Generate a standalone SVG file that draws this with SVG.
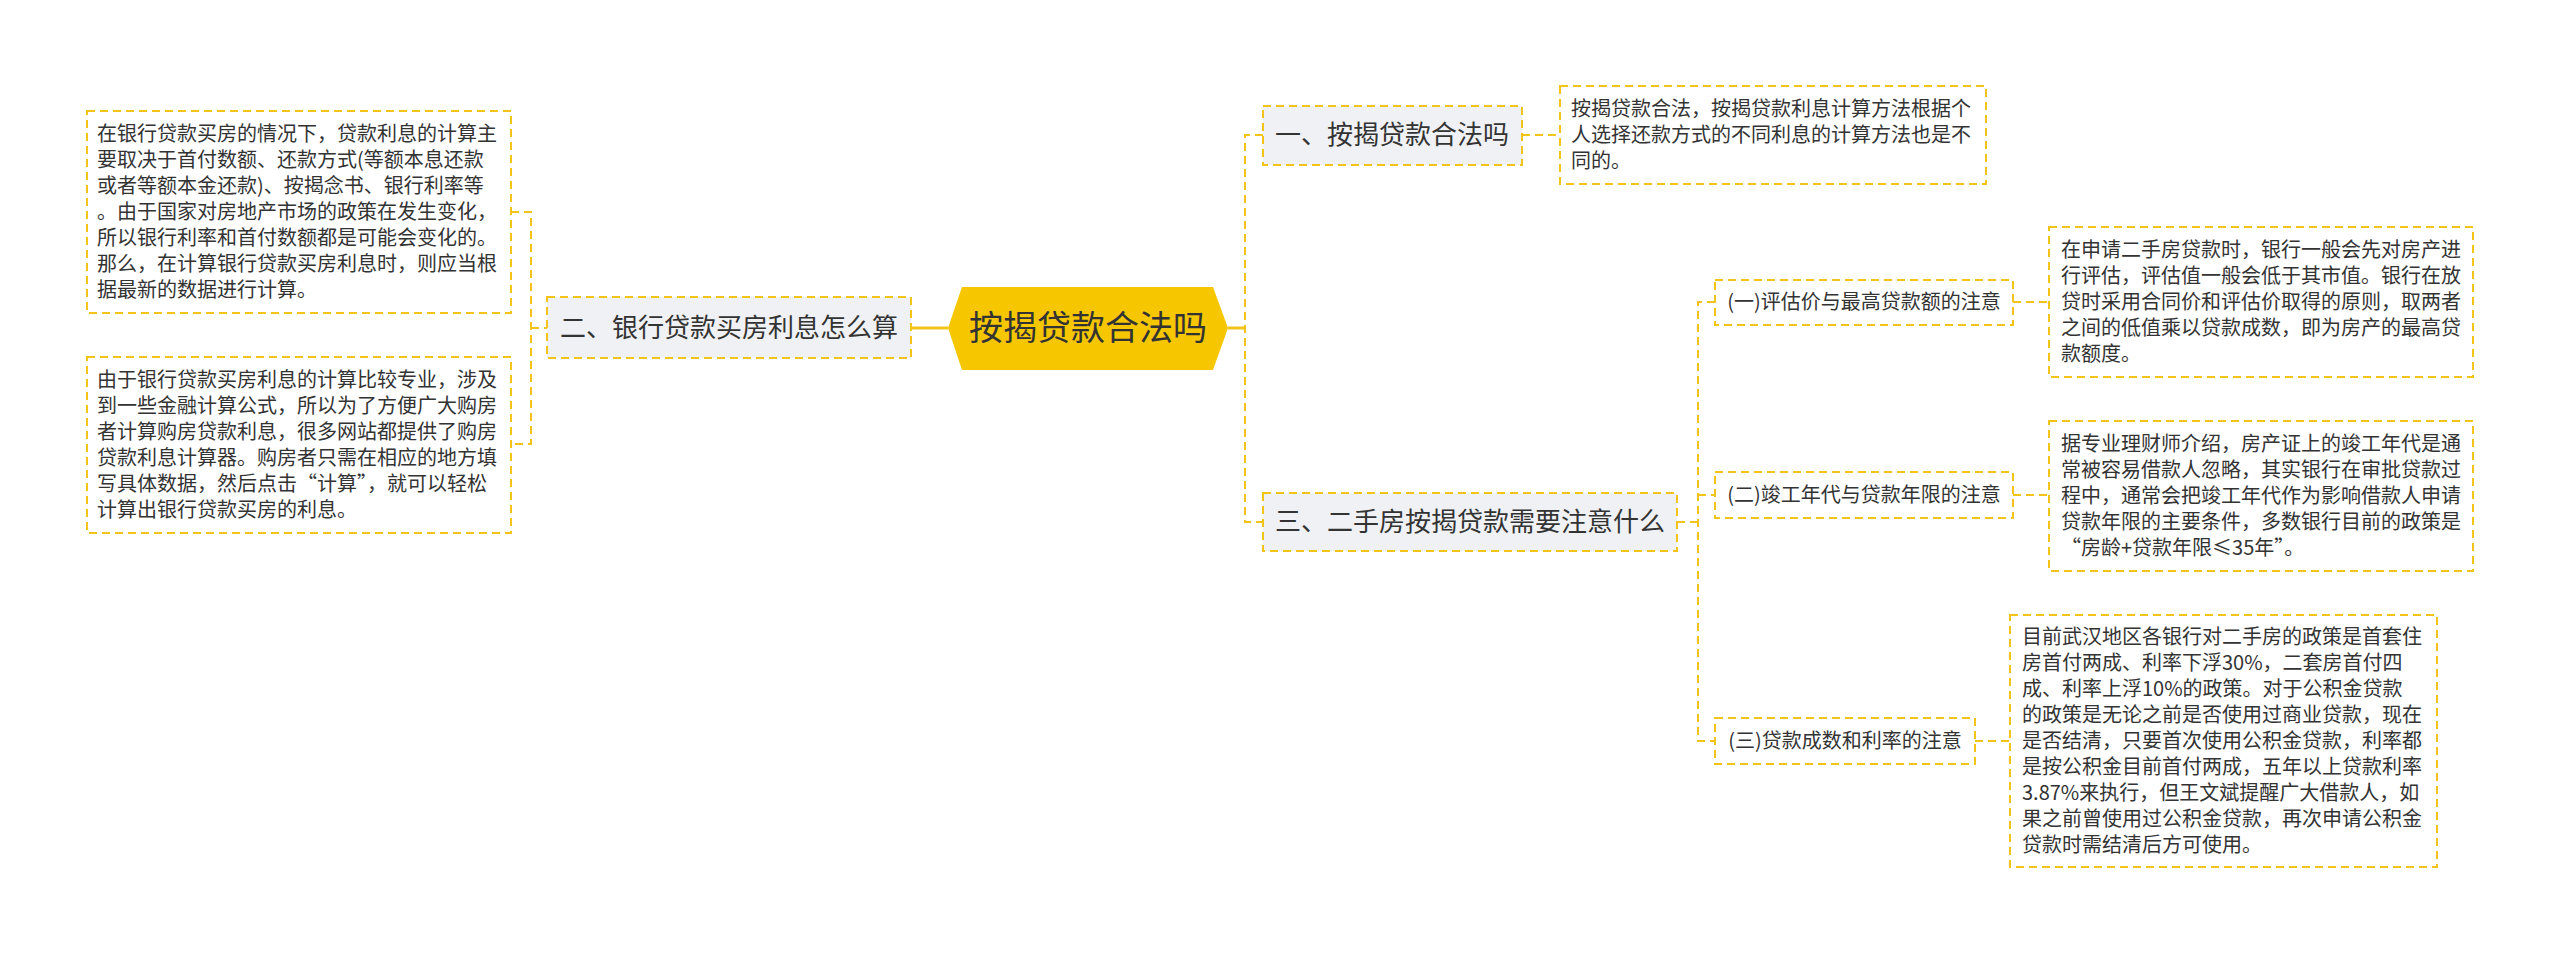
<svg xmlns="http://www.w3.org/2000/svg" width="2560" height="955" viewBox="0 0 2560 955">
<style>
.dash{fill:none;stroke:#F2C318;stroke-width:2;stroke-dasharray:8 5}
.solid{fill:none;stroke:#F2C318;stroke-width:3}
.l2{fill:#EFF1F4;stroke:#F2C318;stroke-width:2;stroke-dasharray:8 5}
.box{fill:#FFFFFF;stroke:#F2C318;stroke-width:2;stroke-dasharray:8 5}
text{font-family:"Microsoft YaHei","Noto Sans CJK SC","Noto Sans",sans-serif;fill:#333333}
.t0{font-size:34px;text-anchor:middle}
.t2{font-size:26px;text-anchor:middle}
.t3{font-size:20px;text-anchor:middle}
.td{font-size:20px}
</style>
<rect width="2560" height="955" fill="#FFFFFF"/>
<g id="connectors">
<path class="solid" d="M911,328 H948"/>
<path class="solid" d="M1228,328 H1245"/>
<path class="dash" d="M511,212 H531 V444 H511"/>
<path class="dash" d="M531,328 H547"/>
<path class="dash" d="M1263,135 H1245 V522 H1263"/>
<path class="dash" d="M1522,135 H1560"/>
<path class="dash" d="M1677,522 H1698"/>
<path class="dash" d="M1715,302 H1698 V741 H1715"/>
<path class="dash" d="M1698,495 H1715"/>
<path class="dash" d="M2013,302 H2049"/>
<path class="dash" d="M2013,495 H2049"/>
<path class="dash" d="M1975,741 H2010"/>
</g>
<g id="root">
<polygon points="948,328 962,287 1213,287 1228,328 1213,370 962,370" fill="#F6C700"/>
<text class="t0" x="1088" y="340">按揭贷款合法吗</text>
</g>
<g id="n2">
<rect class="l2" x="547" y="297" width="364" height="61"/>
<text class="t2" x="729" y="337">二、银行贷款买房利息怎么算</text>
</g>
<g id="n2a">
<rect class="box" x="87" y="111" width="424" height="202"/>
<text class="td" x="97" y="141">在银行贷款买房的情况下，贷款利息的计算主</text>
<text class="td" x="97" y="167">要取决于首付数额、还款方式(等额本息还款</text>
<text class="td" x="97" y="193">或者等额本金还款)、按揭念书、银行利率等</text>
<text class="td" x="97" y="219">。由于国家对房地产市场的政策在发生变化，</text>
<text class="td" x="97" y="245">所以银行利率和首付数额都是可能会变化的。</text>
<text class="td" x="97" y="271">那么，在计算银行贷款买房利息时，则应当根</text>
<text class="td" x="97" y="297">据最新的数据进行计算。</text>
</g>
<g id="n2b">
<rect class="box" x="87" y="357" width="424" height="176"/>
<text class="td" x="97" y="387">由于银行贷款买房利息的计算比较专业，涉及</text>
<text class="td" x="97" y="413">到一些金融计算公式，所以为了方便广大购房</text>
<text class="td" x="97" y="439">者计算购房贷款利息，很多网站都提供了购房</text>
<text class="td" x="97" y="465">贷款利息计算器。购房者只需在相应的地方填</text>
<text class="td" x="97" y="491">写具体数据，然后点击“计算”，就可以轻松</text>
<text class="td" x="97" y="517">计算出银行贷款买房的利息。</text>
</g>
<g id="n1">
<rect class="l2" x="1263" y="106" width="259" height="59"/>
<text class="t2" x="1392" y="144">一、按揭贷款合法吗</text>
</g>
<g id="n1a">
<rect class="box" x="1560" y="86" width="426" height="98"/>
<text class="td" x="1571" y="116">按揭贷款合法，按揭贷款利息计算方法根据个</text>
<text class="td" x="1571" y="142">人选择还款方式的不同利息的计算方法也是不</text>
<text class="td" x="1571" y="168">同的。</text>
</g>
<g id="n3">
<rect class="l2" x="1263" y="493" width="414" height="58"/>
<text class="t2" x="1470" y="531">三、二手房按揭贷款需要注意什么</text>
</g>
<g id="n3a">
<rect class="box" x="1715" y="280" width="298" height="45"/>
<text class="t3" x="1864" y="309">(一)评估价与最高贷款额的注意</text>
</g>
<g id="n3a1">
<rect class="box" x="2049" y="227" width="424" height="150"/>
<text class="td" x="2061" y="257">在申请二手房贷款时，银行一般会先对房产进</text>
<text class="td" x="2061" y="283">行评估，评估值一般会低于其市值。银行在放</text>
<text class="td" x="2061" y="309">贷时采用合同价和评估价取得的原则，取两者</text>
<text class="td" x="2061" y="335">之间的低值乘以贷款成数，即为房产的最高贷</text>
<text class="td" x="2061" y="361">款额度。</text>
</g>
<g id="n3b">
<rect class="box" x="1715" y="472" width="298" height="46"/>
<text class="t3" x="1864" y="502">(二)竣工年代与贷款年限的注意</text>
</g>
<g id="n3b1">
<rect class="box" x="2049" y="421" width="424" height="150"/>
<text class="td" x="2061" y="451">据专业理财师介绍，房产证上的竣工年代是通</text>
<text class="td" x="2061" y="477">常被容易借款人忽略，其实银行在审批贷款过</text>
<text class="td" x="2061" y="503">程中，通常会把竣工年代作为影响借款人申请</text>
<text class="td" x="2061" y="529">贷款年限的主要条件，多数银行目前的政策是</text>
<text class="td" x="2061" y="555">“房龄+贷款年限≤35年”。</text>
</g>
<g id="n3c">
<rect class="box" x="1715" y="718" width="260" height="46"/>
<text class="t3" x="1845" y="748">(三)贷款成数和利率的注意</text>
</g>
<g id="n3c1">
<rect class="box" x="2010" y="615" width="427" height="252"/>
<text class="td" x="2022" y="644">目前武汉地区各银行对二手房的政策是首套住</text>
<text class="td" x="2022" y="670">房首付两成、利率下浮30%，二套房首付四</text>
<text class="td" x="2022" y="696">成、利率上浮10%的政策。对于公积金贷款</text>
<text class="td" x="2022" y="722">的政策是无论之前是否使用过商业贷款，现在</text>
<text class="td" x="2022" y="748">是否结清，只要首次使用公积金贷款，利率都</text>
<text class="td" x="2022" y="774">是按公积金目前首付两成，五年以上贷款利率</text>
<text class="td" x="2022" y="800">3.87%来执行，但王文斌提醒广大借款人，如</text>
<text class="td" x="2022" y="826">果之前曾使用过公积金贷款，再次申请公积金</text>
<text class="td" x="2022" y="852">贷款时需结清后方可使用。</text>
</g>
</svg>
